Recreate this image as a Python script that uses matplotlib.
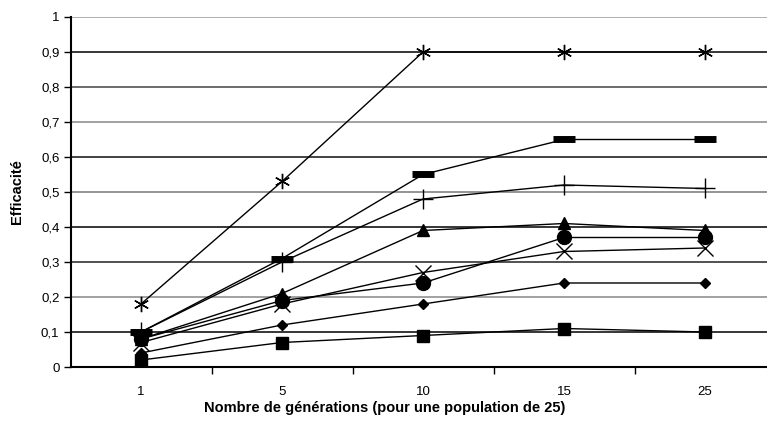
import matplotlib
matplotlib.use("Agg")
import matplotlib.pyplot as plt

plt.rcParams['font.family'] = ['Liberation Sans', 'DejaVu Sans']

categories = ["1", "5", "10", "15", "25"]
s_asterisk = [0.18, 0.53, 0.90, 0.90, 0.90]
s_dash = [0.10, 0.31, 0.55, 0.65, 0.65]
s_plus = [0.10, 0.30, 0.48, 0.52, 0.51]
s_triangle = [0.08, 0.21, 0.39, 0.41, 0.39]
s_circle = [0.08, 0.19, 0.24, 0.37, 0.37]
s_x = [0.07, 0.18, 0.27, 0.33, 0.34]
s_diamond = [0.04, 0.12, 0.18, 0.24, 0.24]
s_square = [0.02, 0.07, 0.09, 0.11, 0.10]
y_ticks = [0, 0.1, 0.2, 0.3, 0.4, 0.5, 0.6, 0.7, 0.8, 0.9, 1]
y_tick_labels = ["0", "0,1", "0,2", "0,3", "0,4", "0,5", "0,6", "0,7", "0,8", "0,9", "1"]

fig = plt.figure(figsize=(7.67, 4.28), dpi=100)
ax = fig.add_axes([70.5 / 767, 61 / 428, 705 / 767, 350 / 428])

x = list(range(1, len(categories) + 1))

# gridlines (scanned look: alternating darkness)
grid_colors = ['#000000', '#000000', '#888888', '#222222', '#000000', '#777777',
               '#111111', '#888888', '#444444', '#000000', '#999999']
for yv, c in zip(y_ticks[1:], grid_colors[1:]):
    ax.axhline(yv, color=c, lw=1.1, zorder=1)

series = [
    (s_asterisk, dict(marker=(6, 2, 0), ms=11, mew=1.0)),
    (s_dash, dict(marker='_', ms=16, mew=5)),
    (s_plus, dict(marker='+', ms=14, mew=1.0)),
    (s_triangle, dict(marker='^', ms=8)),
    (s_circle, dict(marker='o', ms=10)),
    (s_x, dict(marker='x', ms=11, mew=1.0)),
    (s_diamond, dict(marker='D', ms=5)),
    (s_square, dict(marker='s', ms=8)),
]
for vals, kw in series:
    ax.plot(x, vals, color='black', lw=1.0, mfc='black', mec='black', zorder=3,
            clip_on=False, **kw)

ax.set_xlim(0.5, len(categories) + 0.5)
ax.set_ylim(0, 1)

ax.set_yticks(y_ticks)
ax.set_yticklabels(y_tick_labels, fontsize=9.5)
ax.set_xticks(x)
ax.set_xticklabels(categories, fontsize=9.5)
ax.set_xticks([i + 0.5 for i in range(1, len(categories))], minor=True)
ax.tick_params(axis='x', which='major', length=0, pad=14)
ax.tick_params(axis='x', which='minor', length=5, width=1, direction='out')
ax.tick_params(axis='y', length=5, width=1, direction='out', pad=3)

for sp in ['top', 'right']:
    ax.spines[sp].set_visible(False)
ax.spines['left'].set_linewidth(1.5)
ax.spines['bottom'].set_linewidth(1.5)

ax.set_ylabel("Efficacité", fontsize=10.5, fontweight='bold', labelpad=12)
ax.set_xlabel("Nombre de générations (pour une population de 25)", fontsize=10.5,
              fontweight='bold')
ax.xaxis.set_label_coords((385 - 70.5) / 705, -(401 - 367) / 350)

fig.savefig("out.png", dpi=100)
